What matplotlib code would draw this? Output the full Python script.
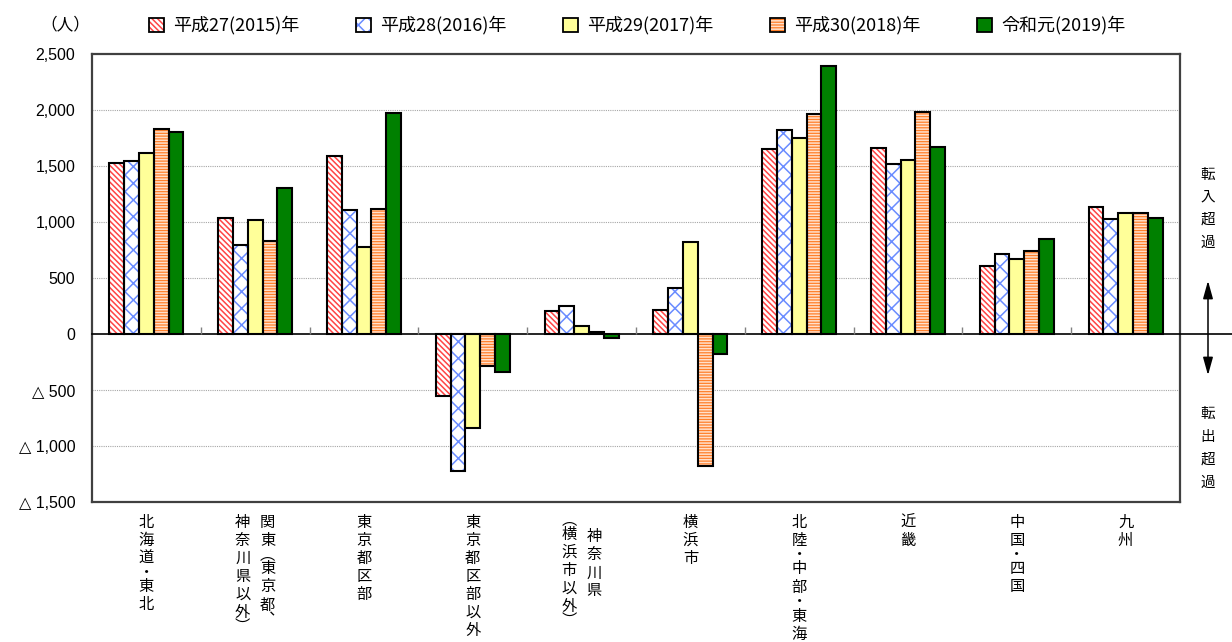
import numpy as np
import matplotlib.pyplot as plt
import matplotlib.patches as mpatches

plt.rcParams['font.family'] = ['Noto Sans CJK JP', 'DejaVu Sans']
plt.rcParams['hatch.linewidth'] = 1.1

# data (persons)
regions = ['北海道・東北', '関東（東京都、神奈川県以外）', '東京都区部', '東京都区部以外',
           '神奈川県（横浜市以外）', '横浜市', '北陸・中部・東海', '近畿', '中国・四国', '九州']
# vertical label columns, right column first
label_columns = [['北海道・東北'], ['関東︵東京都︑', '神奈川県以外︶'], ['東京都区部'],
                 ['東京都区部以外'], ['神奈川県', '︵横浜市以外︶'], ['横浜市'],
                 ['北陸・中部・東海'], ['近畿'], ['中国・四国'], ['九州']]
years = ['平成27(2015)年', '平成28(2016)年', '平成29(2017)年', '平成30(2018)年', '令和元(2019)年']
v2015 = [1529, 1036, 1589, -551, 208, 214, 1654, 1657, 604, 1134]
v2016 = [1545, 797, 1107, -1226, 247, 411, 1824, 1518, 711, 1030]
v2017 = [1619, 1021, 780, -839, 68, 824, 1747, 1554, 670, 1077]
v2018 = [1830, 827, 1113, -286, 15, -1179, 1964, 1979, 738, 1080]
v2019 = [1801, 1301, 1973, -339, -33, -179, 2393, 1673, 851, 1036]
yticks = list(range(-1500, 2501, 500))

series = [v2015, v2016, v2017, v2018, v2019]
styles = [
    dict(face='white', hatch='\\' * 6, hc='#ff4545'),
    dict(face='white', hatch='xx', hc='#6a8cff'),
    dict(face='#ffff99', hatch=None, hc='#ffff99'),
    dict(face='#ff7f2a', hatch='-' * 6, hc='#ffe0cc'),
    dict(face='#008000', hatch=None, hc='#008000'),
]

W, H = 1232, 642
fig = plt.figure(figsize=(W / 100, H / 100), dpi=100)
ax = fig.add_axes([92 / W, 1 - 502 / H, 1088 / W, 448 / H])

x = np.arange(len(regions))
bw = 0.136
for i, (vals, st) in enumerate(zip(series, styles)):
    pos = x + (i - 2) * bw
    ax.bar(pos, vals, bw, color=st['face'], edgecolor=st['hc'], hatch=st['hatch'],
           linewidth=0, zorder=2)
    ax.bar(pos, vals, bw, facecolor='none', edgecolor='black', linewidth=1.5, zorder=3)

ax.set_xlim(-0.5, len(regions) - 0.5)
ax.set_ylim(yticks[0], yticks[-1])
ax.set_xticks([])
ax.set_yticks(yticks)
ax.set_yticklabels(['△ {:,}'.format(-v) if v < 0 else '{:,}'.format(v) for v in yticks],
                   family=['Liberation Sans', 'DejaVu Sans'], fontsize=11.5)
ax.tick_params(axis='y', length=0, pad=12)
for s in ax.spines.values():
    s.set_color('#404040')
    s.set_linewidth(1.6)

for t in yticks[1:-1]:
    if t != 0:
        ax.axhline(t, color='#a6a6a6', lw=0.8, ls=(0, (1, 1)), zorder=1)
ax.axhline(0, xmin=0, xmax=(W - 92) / 1088, color='black', lw=1.2, clip_on=False, zorder=4)
ax.plot(x[:-1] + 0.5, np.zeros(len(x) - 1), ls='none', marker=2, ms=5, mew=1,
        color='#808080', zorder=4)

# vertical category labels
small = {'・': 11, '︑': 11, '︵': 11, '︶': 11}
col_start = {4: [26, 12]}
for i, cols in enumerate(label_columns):
    starts = col_start.get(i, [11] * len(cols))
    dxs = [0] if len(cols) == 1 else [12.5, -12.5]
    for col, dx, y in zip(cols, dxs, starts):
        for ch in col:
            adv = small.get(ch, 18)
            ax.annotate(ch, xy=(i, 0), xycoords=('data', 'axes fraction'),
                        xytext=(dx, -(y + adv / 2)), textcoords='offset pixels',
                        ha='center', va='center', fontsize=11, annotation_clip=False)
            y += adv

# right side notes
for k, ch in enumerate('転入超過'):
    fig.text(1208 / W, 1 - (175 + 22.5 * k) / H, ch, ha='center', va='center', fontsize=10.5)
for k, ch in enumerate('転出超過'):
    fig.text(1208 / W, 1 - (414 + 23 * k) / H, ch, ha='center', va='center', fontsize=10.5)
ax.annotate('', xy=(1208, H - 278), xycoords='figure pixels', xytext=(1208, H - 378),
            arrowprops=dict(arrowstyle='<|-|>,head_length=0.9,head_width=0.25',
                            color='black', lw=1.1, mutation_scale=12),
            annotation_clip=False)

# legend
fig.text(65 / W, 1 - 25 / H, '（人）', ha='center', va='center', fontsize=12)
for i, (lab, st) in enumerate(zip(years, styles)):
    x0 = 149 + 207 * i
    fig.add_artist(mpatches.Rectangle((x0 / W, 1 - 32 / H), 15 / W, 14 / H,
                                      transform=fig.transFigure, facecolor=st['face'],
                                      edgecolor=st['hc'], hatch=st['hatch'], linewidth=0))
    fig.add_artist(mpatches.Rectangle((x0 / W, 1 - 32 / H), 15 / W, 14 / H,
                                      transform=fig.transFigure, facecolor='none',
                                      edgecolor='black', linewidth=1.3))
    fig.text((x0 + 24) / W, 1 - 25 / H, lab, ha='left', va='center', fontsize=13)

fig.savefig('out.png', dpi=100)
